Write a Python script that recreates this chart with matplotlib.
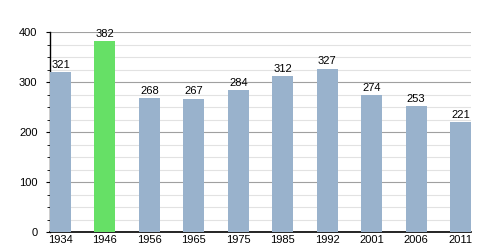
import matplotlib
matplotlib.use("Agg")
import matplotlib.pyplot as plt
from matplotlib.ticker import MultipleLocator

years = ["1934", "1946", "1956", "1965", "1975", "1985", "1992", "2001", "2006", "2011"]
population = [321, 382, 268, 267, 284, 312, 327, 274, 253, 221]
highlight = "1946"

plt.rcParams["font.family"] = ["Liberation Sans", "DejaVu Sans"]

fig = plt.figure(figsize=(5, 2.5), dpi=100)
ax = fig.add_axes([0.1, 0.072, 0.842, 0.8])

width = 0.47
colors = ["#66e066" if y == highlight else "#99b2cc" for y in years]
xs = list(range(len(years)))
ax.bar(xs, population, width=width, color=colors, zorder=3)

for x, v in zip(xs, population):
    ax.text(x, v + 4, str(v), ha="center", va="bottom", fontsize=8, zorder=4)

ax.set_xlim(-width / 2, len(years) - 1 + width / 2)
ax.set_ylim(0, 400)
ax.set_xticks(xs)
ax.set_xticklabels(years)
ax.yaxis.set_major_locator(MultipleLocator(100))
ax.yaxis.set_minor_locator(MultipleLocator(25))

ax.grid(axis="y", which="major", color="#a0a0a0", linewidth=0.8, zorder=0)
ax.grid(axis="y", which="minor", color="#e2e2e2", linewidth=0.8, zorder=0)

ax.spines["top"].set_visible(False)
ax.spines["right"].set_visible(False)
ax.spines["left"].set_linewidth(1)
ax.spines["bottom"].set_linewidth(1.2)
ax.tick_params(axis="x", length=0, labelsize=8, pad=2)
ax.tick_params(axis="y", which="major", length=3, labelsize=8, pad=6)
ax.tick_params(axis="y", which="minor", length=2.5)

fig.savefig("out.png", dpi=100)
